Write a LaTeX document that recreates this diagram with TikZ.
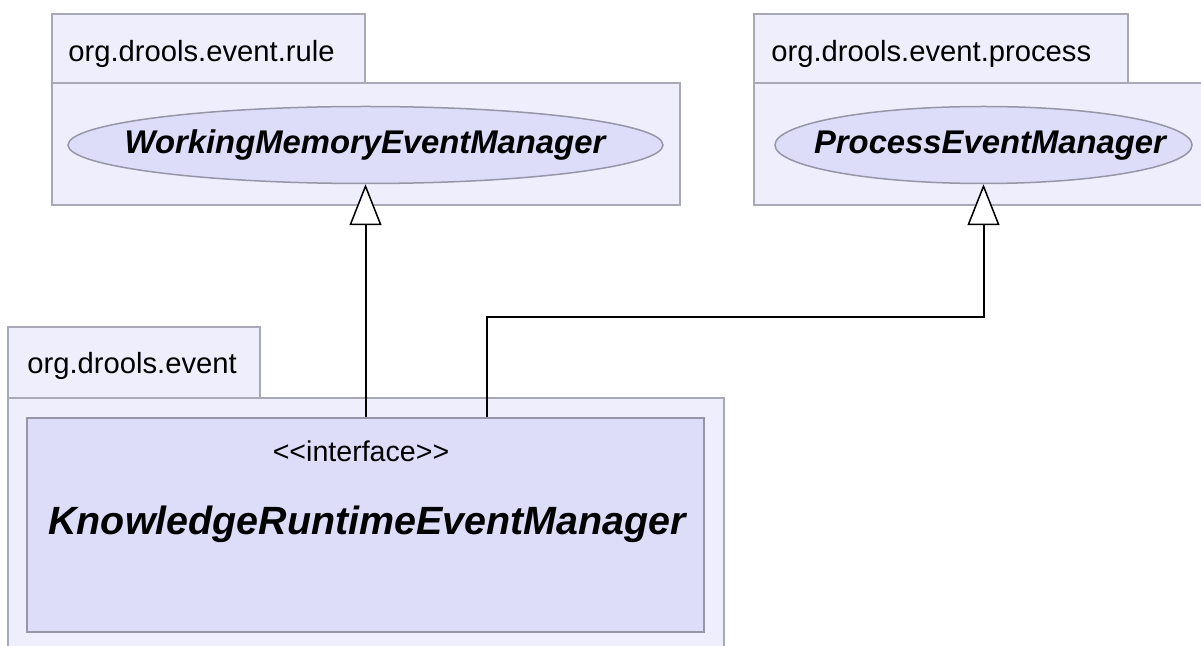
\documentclass[tikz,border=0pt]{standalone}
\usepackage{fontspec}
\setmainfont{Liberation Sans}
\usetikzlibrary{shapes.geometric,arrows.meta,calc}
\definecolor{pkgfill}{RGB}{238,238,252}
\definecolor{clsfill}{RGB}{221,221,250}
\definecolor{pkgline}{RGB}{168,168,182}
\definecolor{clsline}{RGB}{150,150,168}
\tikzset{
  pkgbox/.style={draw=pkgline, fill=pkgfill, line width=0.75pt},
  pkglabel/.style={anchor=base west, inner sep=0pt, font=\fontsize{14.6}{16}\selectfont},
  ifacebox/.style={ellipse, draw=clsline, fill=clsfill, line width=0.75pt, inner sep=0pt},
  ifacename/.style={anchor=base, inner sep=0pt, font=\fontsize{16.4}{18}\selectfont\bfseries\itshape},
  classbox/.style={rectangle, draw=clsline, fill=clsfill, line width=0.75pt, inner sep=0pt},
  gen/.style={draw=black, line width=1pt, -{Triangle[open, fill=white, length=20.5pt, width=16pt, line width=0.75pt]}},
}
\begin{document}
\begin{tikzpicture}[x=0.5pt, y=-0.5pt]
\useasboundingbox (0,0) rectangle (1201,646);
% package org.drools.event.rule
\draw[pkgbox] (52,14) rectangle (365,83);
\draw[pkgbox] (52,83) rectangle (680,205);
\node[pkglabel] (lrule) at (68,62) {org.drools.event.rule};
\node[ifacebox, minimum width=297.5pt, minimum height=38.5pt] (wm) at (365.5,145) {};
\node[ifacename] (wmname) at (365,154) {WorkingMemoryEventManager};
% package org.drools.event.process
\draw[pkgbox] (754,14) rectangle (1128,83);
\draw[pkgbox] (754,83) rectangle (1204,205);
\node[pkglabel] (lproc) at (771,62) {org.drools.event.process};
\node[ifacebox, minimum width=208.5pt, minimum height=38.5pt] (pem) at (983.5,145) {};
\node[ifacename] (pemname) at (990,154) {ProcessEventManager};
% package org.drools.event
\draw[pkgbox] (8,327) rectangle (260,398);
\draw[pkgbox] (8,398) rectangle (724,650);
\node[pkglabel] (levent) at (27,374) {org.drools.event};
\node[classbox, minimum width=338.5pt, minimum height=107pt] (kre) at (365.5,525) {};
\node[anchor=base, inner sep=0pt, font=\fontsize{14.3}{16}\selectfont] (stereo) at (361,462) {<{}<interface>{}>};
\node[anchor=base, inner sep=0pt, font=\fontsize{19.7}{22}\selectfont\bfseries\itshape] (kname) at (367,535) {KnowledgeRuntimeEventManager};
% connectors
\coordinate (b1) at (487,317);
\draw[gen] (kre.north -| wm.south) -- (wm.south);
\draw[gen] (kre.north -| b1) -- (b1) -| (pem.south);
\end{tikzpicture}
\end{document}
